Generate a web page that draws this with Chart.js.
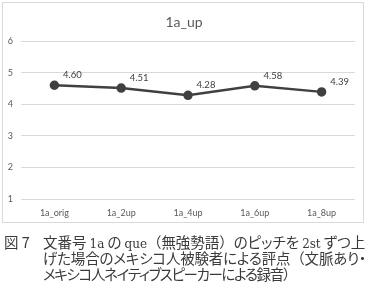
<!DOCTYPE html>
<html>
<head>
<meta charset="utf-8">
<script src="https://cdn.jsdelivr.net/npm/chart.js@4"></script>
<style>
  html, body { margin: 0; padding: 0; background: #fff; }
  body { width: 368px; height: 290px; position: relative; overflow: hidden; }
  #chartBox { position: absolute; left: 0; top: 0; width: 368px; height: 225px; }
  #frame { position: absolute; left: 2px; top: 2px; width: 360px; height: 219px; border: 1px solid #d9d9d9; pointer-events: none; }
  #caption { position: absolute; left: 0; top: 234px; width: 368px; font-family: "Noto Sans CJK JP", sans-serif; font-size: 14.5px; line-height: 16px; color: #3a3a3a; white-space: nowrap; font-feature-settings: "palt"; }
  #caption .num { position: absolute; left: 4px; top: 0; }
  #caption .txt { position: absolute; left: 43px; top: 0; }
  #caption .lat { font-family: "DejaVu Serif", serif; font-size: 12px; }
  #caption .fw { font-feature-settings: normal; }
</style>
</head>
<body>
<div id="chartBox"><canvas id="lineChart" width="368" height="225"></canvas></div>
<div id="frame"></div>
<div id="caption">
  <span class="num">図 7</span>
  <span class="txt" id="l1" style="top:0">文番号 <span class="lat">1a</span> の <span class="lat">que</span><span class="fw">（</span>無強勢語<span class="fw">）</span>のピッチを <span class="lat">2st</span> ずつ上</span>
  <span class="txt" id="l2" style="top:16px">げた場合のメキシコ人被験者による評点<span class="fw">（</span>文脈あり・</span>
  <span class="txt" id="l3" style="top:32px">メキシコ人ネイティブスピーカーによる録音<span class="fw">）</span></span>
</div>
<script>
const chartTitle = '1a_up';
const categories = ['1a_orig', '1a_2up', '1a_4up', '1a_6up', '1a_8up'];
const scores = [4.60, 4.51, 4.28, 4.58, 4.39];
const yTicks = [1, 2, 3, 4, 5, 6];

const FONT = 'Lato, "Open Sans", sans-serif';

// draws the title and the value labels next to each point
const labelPlugin = {
    id: 'labels',
    afterDatasetsDraw(chart) {
        const ctx = chart.ctx;
        ctx.save();
        ctx.fillStyle = '#595959';
        ctx.font = '14px ' + FONT;
        ctx.textAlign = 'center';
        ctx.textBaseline = 'middle';
        ctx.fillText(chartTitle, 184, 22);

        ctx.font = '9.5px ' + FONT;
        ctx.fillStyle = '#404040';
        const meta = chart.getDatasetMeta(0);
        meta.data.forEach((pt, i) => {
            ctx.fillText(scores[i].toFixed(2), pt.x + 18, pt.y - 10);
        });
        ctx.restore();
    }
};

const ctx = document.getElementById('lineChart').getContext('2d');
new Chart(ctx, {
    type: 'line',
    data: {
        labels: categories,
        datasets: [{
            data: scores,
            borderColor: '#404040',
            backgroundColor: '#404040',
            borderWidth: 2.5,
            pointRadius: 3.5,
            pointHoverRadius: 3.5,
            tension: 0
        }]
    },
    options: {
        responsive: false,
        animation: false,
        layout: { padding: { left: 0, right: 13, top: 41, bottom: 0 } },
        plugins: { legend: { display: false }, title: { display: false }, tooltip: { enabled: false } },
        scales: {
            x: {
                offset: true,
                grid: { display: false, drawTicks: false },
                border: { display: false },
                ticks: { color: '#595959', font: { size: 9, family: FONT }, padding: 9, maxRotation: 0 },
                afterFit(s) { s.height = 26; }
            },
            y: {
                min: 1, max: 6,
                afterBuildTicks(s) { s.ticks = yTicks.map(v => ({ value: v })); },
                grid: { color: '#d9d9d9', lineWidth: 1, drawTicks: false },
                border: { display: false },
                ticks: { color: '#595959', font: { size: 9, family: FONT }, padding: 8 },
                afterFit(s) { s.width = 21; }
            }
        }
    },
    plugins: [labelPlugin]
});

// stretch each caption line to the width it has in the original
const lineEnds = { l1: 365, l2: 366, l3: 296 };
Object.keys(lineEnds).forEach(id => {
    const el = document.getElementById(id);
    const w = el.getBoundingClientRect().width;
    const target = lineEnds[id] - 43;
    const chars = el.textContent.length;
    el.style.letterSpacing = ((target - w) / chars).toFixed(2) + 'px';
});
</script>
</body>
</html>
